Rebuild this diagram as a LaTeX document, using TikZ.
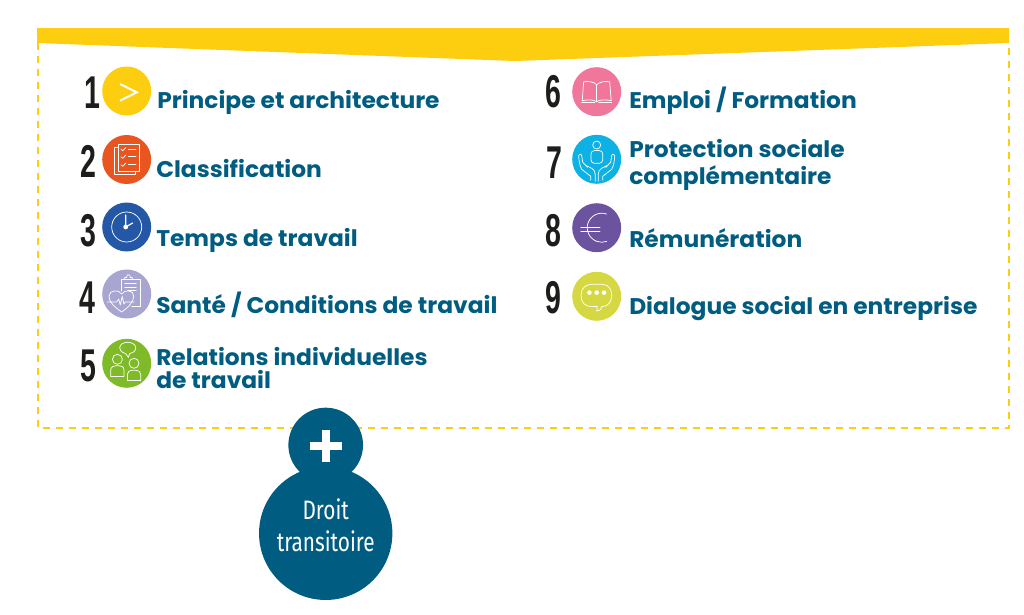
\documentclass[tikz,border=0pt]{standalone}
\usepackage{fontspec}
\setmainfont[FakeStretch=1.03]{Poppins}
\newfontfamily\numfont[FakeStretch=0.62]{Liberation Sans}
\newfontfamily\condfont[FakeStretch=0.78]{Fira Sans}
\definecolor{ink}{HTML}{005C80}
\definecolor{gold}{HTML}{FDCE0F}
\definecolor{cb}{HTML}{E9551F}
\definecolor{cc}{HTML}{2458A6}
\definecolor{cd}{HTML}{A9A5D1}
\definecolor{ce}{HTML}{7FBA29}
\definecolor{cf}{HTML}{F0769B}
\definecolor{cg}{HTML}{0DB1E3}
\definecolor{ch}{HTML}{6C53A0}
\definecolor{ci}{HTML}{D5D843}
\definecolor{numc}{HTML}{1D1D1B}
\begin{document}
\begin{tikzpicture}[x=0.75pt,y=-0.75pt,
  badge/.style={circle,minimum size=36.75pt,inner sep=0pt,fill=#1},
  numeral/.style={anchor=base,inner sep=0pt,text=numc,font=\numfont\bfseries\fontsize{34.5pt}{34.5pt}\selectfont},
  label/.style={anchor=base west,inner sep=0pt,text=ink,align=left,font=\bfseries\fontsize{17pt}{20pt}\selectfont},
  droit/.style={inner sep=0pt,text=white,font=\condfont\fontsize{20pt}{24pt}\selectfont},
  ico/.style={draw=white,line width=0.55pt,line join=round,line cap=round}]
\useasboundingbox (0,0) rectangle (1024,614);
% frame and banner
\draw[gold,line width=0.85pt,dash pattern=on 5.5pt off 4.25pt] (38,43) -- (38,428) -- (1009,428) -- (1009,43);
\fill[gold] (37,28) -- (1009,28) -- (1009,43) -- (515,61) -- (37,43) -- cycle;
% badges
\node[badge={gold}] (c1) at (126.7,91) {};
\node[badge={cb}] (c2) at (126.7,159.5) {};
\node[badge={cc}] (c3) at (126.7,227) {};
\node[badge={cd}] (c4) at (126.7,294) {};
\node[badge={ce}] (c5) at (126.7,363.3) {};
\node[badge={cf}] (c6) at (596.7,91.7) {};
\node[badge={cg}] (c7) at (596.7,159.3) {};
\node[badge={ch}] (c8) at (596.7,227.7) {};
\node[badge={ci}] (c9) at (596.7,296.3) {};
% numerals
\node[numeral] (n1) at (92,108) {1};
\node[numeral] (n2) at (88,177) {2};
\node[numeral] (n3) at (88,246) {3};
\node[numeral] (n4) at (87.5,313) {4};
\node[numeral] (n5) at (88,381) {5};
\node[numeral] (n6) at (553.5,107) {6};
\node[numeral] (n7) at (554.5,178) {7};
\node[numeral] (n8) at (553.5,246) {8};
\node[numeral] (n9) at (553.5,313) {9};
% labels
\node[label] (t1) at (157,108) {Principe et architecture};
\node[label] (t2) at (156,177) {Classification};
\node[label] (t3) at (156,246) {Temps de travail};
\node[label] (t4) at (156,313) {Santé / Conditions de travail};
\node[label] (t5) at (156,365) {Relations individuelles};
\node[label] (t5b) at (156,388) {de travail};
\node[label] (t6) at (629,108) {Emploi / Formation};
\node[label] (t7) at (629,157) {Protection sociale};
\node[label] (t7b) at (629,184) {complémentaire};
\node[label] (t8) at (629,247) {Rémunération};
\node[label] (t9) at (629,314) {Dialogue social en entreprise};
% icon 1
\begin{scope}[shift={(c1.center)}]
\draw[ico,line width=1.5pt,line cap=butt,line join=miter] (-6.7,-7) -- (10,1.3) -- (-6.7,9.7);
\end{scope}
% icon 2
\begin{scope}[shift={(c2.center)}]
\draw[ico] (-12.7,-12.3) rectangle (8.3,15.3);
\filldraw[ico,fill=cb] (-8.3,-15.3) rectangle (12.7,12);
\foreach \y in {-10.3,-2.7,5.3}{
  \draw[ico] (-5.7,\y) -- (-4,{\y+1.6}) -- (-1,{\y-1.6});
  \draw[ico] (1.7,\y) -- (9.3,\y);}
\end{scope}
% icon 3
\begin{scope}[shift={(c3.center)}]
\draw[ico] (0,0) circle[radius=15];
\draw[ico,line width=0.9pt] (-1,-12) -- (-1,0) -- (6,-4);
\fill[white] (-1,0) circle[radius=2.4];
\end{scope}
% icon 4
\begin{scope}[shift={(c4.center)}]
\draw[ico] (-5.7,-3) -- (-5.7,-14.3) -- (13.3,-14.3) -- (13.3,12.3) -- (5,12.3);
\draw[ico] (-2,-14.3) -- (-2,-16.5) -- (0,-16.5) -- (0.5,-19) -- (3,-19) -- (3.5,-16.5) -- (5.5,-16.5) -- (5.5,-14.3);
\draw[ico] (-2,-10.5) -- (9.5,-10.5) (-2,-7) -- (9.5,-7) (1,-3.5) -- (9.5,-3.5);
\draw[ico] (-5,18) .. controls (-12,13) and (-18,8) .. (-17.7,2) .. controls (-17.5,-4) and (-8,-5) .. (-5,0) .. controls (-2,-5) and (7,-4) .. (7,2) .. controls (7,8) and (2,13) .. (-5,18);
\draw[ico] (-19.5,8) -- (-10,8) -- (-8,5) -- (-6.5,11) -- (-4.5,2.5) -- (-2.8,10) -- (-1.5,8) -- (7.5,8);
\end{scope}
% icon 5
\begin{scope}[shift={(c5.center)}]
\draw[ico] (-9.3,-4) circle[radius=5];
\draw[ico] (-16,13.3) -- (-16,7) .. controls (-16,3.5) and (-13,2.5) .. (-11,2.5) -- (-7.5,2.5) .. controls (-5,2.5) and (-2.7,3.5) .. (-2.7,7) -- (-2.7,13.3) -- cycle;
\draw[ico] (7.3,0) circle[radius=5];
\draw[ico] (0.7,17.3) -- (0.7,11) .. controls (0.7,8) and (3,7) .. (5.5,7) -- (9,7) .. controls (11.5,7) and (14,8) .. (14,11) -- (14,17.3) -- cycle;
\draw[ico] (-1,-9.7) .. controls (-6,-11) and (-7,-14) .. (-7,-15.5) .. controls (-7,-19) and (-3,-21) .. (1,-21) .. controls (5,-21) and (9,-19) .. (9,-15.5) .. controls (9,-12) and (6,-10) .. (3,-9.7) -- (1.7,-6) -- cycle;
\end{scope}
% icon 6
\begin{scope}[shift={(c6.center)}]
\draw[ico] (0,-7) .. controls (-3,-10) and (-8,-10.5) .. (-13,-10) -- (-14.5,9) .. controls (-8,7.5) and (-3,8) .. (0,10) .. controls (3,8) and (8,7.5) .. (14.5,9) -- (13,-10) .. controls (8,-10.5) and (3,-10) .. (0,-7) -- cycle;
\draw[ico] (0,-7) -- (0,10);
\draw[ico] (-15,10.5) -- (-2,10.5) (15,10.5) -- (2,10.5);
\end{scope}
% icon 7
\begin{scope}[shift={(c7.center)}]
\draw[ico] (0,-14.3) circle[radius=4];
\draw[ico,rounded corners=2.5pt] (-5.7,-8.7) rectangle (6,4);
\foreach \s in {1,-1}{
  \begin{scope}[xscale=\s]
  \draw[ico] (-1.5,22) -- (-1.5,15) .. controls (-1.5,12) and (-3,10) .. (-5,9) -- (-11,6);
  \draw[ico] (-6,21) -- (-6,17) -- (-15,10) .. controls (-17,7) and (-18,0) .. (-18,-4) .. controls (-17,-5.5) and (-15.5,-5.5) .. (-15,-4) -- (-14,3) -- (-9,8);
  \end{scope}}
\end{scope}
% icon 8
\begin{scope}[shift={(c8.center)}]
\draw[ico] (10,-13.6) arc[start angle=-70,end angle=-290,radius=14.5];
\draw[ico] (-16,-0.3) -- (3.3,-0.3) (-16,3.5) -- (3.3,3.5);
\end{scope}
% icon 9
\begin{scope}[shift={(c9.center)}]
\draw[ico] (-5,10.3) .. controls (-12,10.3) and (-15.7,6) .. (-15.7,-1) .. controls (-15.7,-8) and (-11,-12) .. (-5,-12) -- (5,-12) .. controls (11,-12) and (15,-8) .. (15,-1) .. controls (15,6) and (11,10.3) .. (5,10.3) .. controls (5,12) and (4,14) .. (0,14.7) .. controls (1,13) and (1,12) .. (0.5,10.3) -- cycle;
\foreach \x in {-7.3,0,7.3}{\fill[white] (\x,-3.7) circle[radius=2.3];}
\end{scope}
% droit transitoire
\node[circle,fill=ink,minimum size=56pt,inner sep=0pt] (plus) at (325.7,445) {};
\node[circle,fill=ink,minimum size=100pt,inner sep=0pt] (big) at (325.7,533.3) {};
\node[droit,anchor=base] (d1) at (325.7,519) {Droit};
\node[droit,anchor=base] (d2) at (325.7,551) {transitoire};
\fill[white] (309.5,441.5) rectangle (342,449.5);
\fill[white] (321.8,430) rectangle (329.8,461.5);
\end{tikzpicture}
\end{document}
